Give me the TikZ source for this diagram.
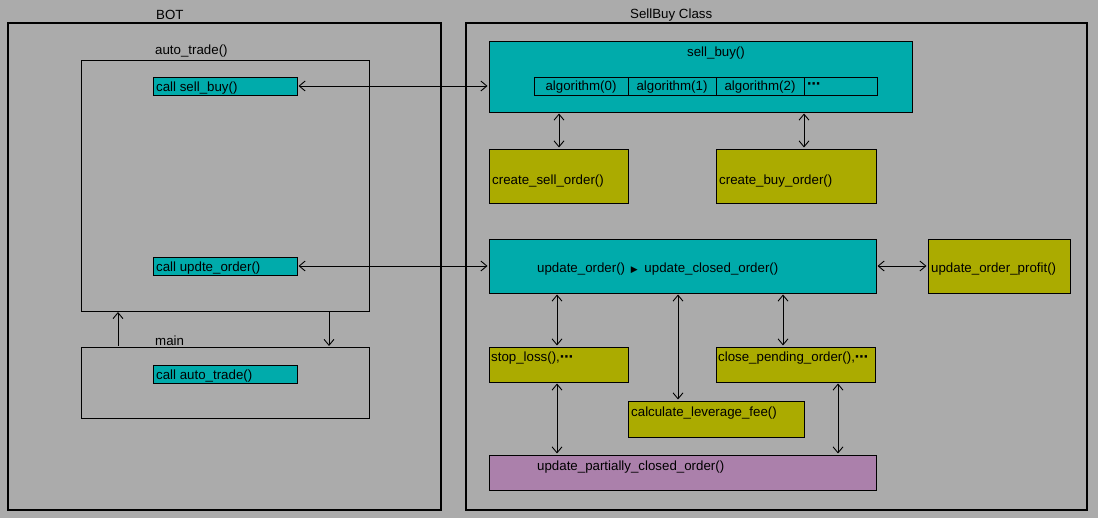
\documentclass[tikz,border=0pt]{standalone}
\usepackage{fontspec}
\setmainfont{Liberation Sans}
\newfontfamily\symfont{DejaVu Sans}
\usetikzlibrary{arrows.meta}
\definecolor{bg}{RGB}{171,171,171}
\definecolor{tealbox}{RGB}{0,171,171}
\definecolor{olivebox}{RGB}{171,171,0}
\definecolor{purplebox}{RGB}{171,128,171}
\newcommand{\mydots}{{\symfont\bfseries ⋯}}
\begin{document}
\begin{tikzpicture}[x=1pt,y=-1pt,
  frame/.style={draw=black, line width=2.6pt, anchor=north west, inner sep=0pt, outer sep=0pt},
  box/.style={draw=black, line width=0.9pt, anchor=north west, inner sep=0pt, outer sep=0pt},
  tealb/.style={box, fill=tealbox},
  oliveb/.style={box, fill=olivebox},
  purpleb/.style={box, fill=purplebox},
  txt/.style={anchor=west, inner sep=0pt, font=\fontsize{13.3}{15}\selectfont},
  ctxt/.style={anchor=center, inner sep=0pt, font=\fontsize{13.3}{15}\selectfont},
  barb/.tip={Straight Barb[length=6pt,width=10pt,line width=0.9pt]},
  conn/.style={line width=0.9pt, {barb}-{barb}, shorten <=1.5pt, shorten >=1.5pt},
  oneway/.style={line width=0.9pt, -{barb}, shorten <=1pt, shorten >=1pt}
]
\fill[bg] (0,0) rectangle (1098,518);
\useasboundingbox (0,0) rectangle (1098,518);

% outer frames
\node[frame, minimum width=433pt, minimum height=487pt] (bot) at (8,23) {};
\node[frame, minimum width=621pt, minimum height=487pt] (sbc) at (466,23) {};
\node[txt] (tbot) at (156,15) {BOT};
\node[txt] (tsbc) at (630,15) {SellBuy Class};

% BOT side
\node[box, minimum width=288pt, minimum height=251pt] (at) at (81,60) {};
\node[txt] (tat) at (155,51) {auto\_trade()};
\node[tealb, minimum width=144pt, minimum height=18pt] (csb) at (153,77) {};
\node[txt] (tcsb) at (156,88) {call sell\_buy()};
\node[tealb, minimum width=144pt, minimum height=18pt] (cuo) at (153,257) {};
\node[txt] (tcuo) at (156,268) {call updte\_order()};
\node[box, minimum width=288pt, minimum height=71pt] (main) at (81,347) {};
\node[txt] (tmain) at (155,341) {main};
\node[tealb, minimum width=144pt, minimum height=18pt] (cat) at (153,365) {};
\node[txt] (tcat) at (156,376) {call auto\_trade()};

% SellBuy side
\node[tealb, minimum width=423pt, minimum height=71pt] (sb) at (489,41) {};
\node[ctxt] (tsb) at (716,53) {sell\_buy()};
\node[box, minimum width=94pt, minimum height=18pt] (a0) at (534,77) {};
\node[box, minimum width=88pt, minimum height=18pt] (a1) at (628,77) {};
\node[box, minimum width=88pt, minimum height=18pt] (a2) at (716,77) {};
\node[box, minimum width=73pt, minimum height=18pt] (a3) at (804,77) {};
\node[ctxt] (ta0) at ([yshift=-1pt]a0.center) {algorithm(0)};
\node[ctxt] (ta1) at ([yshift=-1pt]a1.center) {algorithm(1)};
\node[ctxt] (ta2) at ([yshift=-1pt]a2.center) {algorithm(2)};
\node[txt] (ta3) at (807,86) {\mydots};

\node[oliveb, minimum width=139pt, minimum height=54pt] (cso) at (489,149) {};
\node[txt] (tcso) at (492,181) {create\_sell\_order()};
\node[oliveb, minimum width=160pt, minimum height=54pt] (cbo) at (716,149) {};
\node[txt] (tcbo) at (719,181) {create\_buy\_order()};

\node[tealb, minimum width=387pt, minimum height=54pt] (uo) at (489,239) {};
\node[txt] (tuo) at (537,269) {update\_order()\hspace{2pt} {\symfont\fontsize{9}{10}\selectfont ▶}\hspace{3pt} update\_closed\_order()};
\node[oliveb, minimum width=142pt, minimum height=54pt] (uop) at (928,239) {};
\node[txt] (tuop) at (931,269) {update\_order\_profit()};

\node[oliveb, minimum width=139pt, minimum height=35pt] (sl) at (489,347) {};
\node[txt] (tsl) at (491,358) {stop\_loss(),\mydots};
\node[oliveb, minimum width=159pt, minimum height=35pt] (cpo) at (716,347) {};
\node[txt] (tcpo) at (718,358) {close\_pending\_order(),\mydots};
\node[oliveb, minimum width=176pt, minimum height=36pt] (clf) at (628,401) {};
\node[txt] (tclf) at (631,413) {calculate\_leverage\_fee()};
\node[purpleb, minimum width=387pt, minimum height=35pt] (upc) at (489,455) {};
\node[txt] (tupc) at (537,467) {update\_partially\_closed\_order()};

% connectors
\draw[conn] (csb.east) -- (csb.east -| sb.west);
\draw[conn] (cuo.east) -- (cuo.east -| uo.west);
\draw[oneway] ([xshift=37pt]main.north west) -- ([xshift=37pt]at.south west);
\draw[oneway] ([xshift=248pt]at.south west) -- ([xshift=248pt]main.north west);
\draw[conn] ([xshift=70pt]sb.south west) -- ([xshift=70pt]cso.north west);
\draw[conn] ([xshift=315pt]sb.south west) -- ([xshift=88pt]cbo.north west);
\draw[conn] (uo.east |- uop.west) -- (uop.west);
\draw[conn] ([xshift=68pt]uo.south west) -- ([xshift=68pt]sl.north west);
\draw[conn] ([xshift=294pt]uo.south west) -- ([xshift=67pt]cpo.north west);
\draw[conn] ([xshift=189pt]uo.south west) -- ([xshift=50pt]clf.north west);
\draw[conn] ([xshift=68pt]sl.south west) -- ([xshift=68pt]upc.north west);
\draw[conn] ([xshift=122pt]cpo.south west) -- ([xshift=349pt]upc.north west);
\end{tikzpicture}
\end{document}
